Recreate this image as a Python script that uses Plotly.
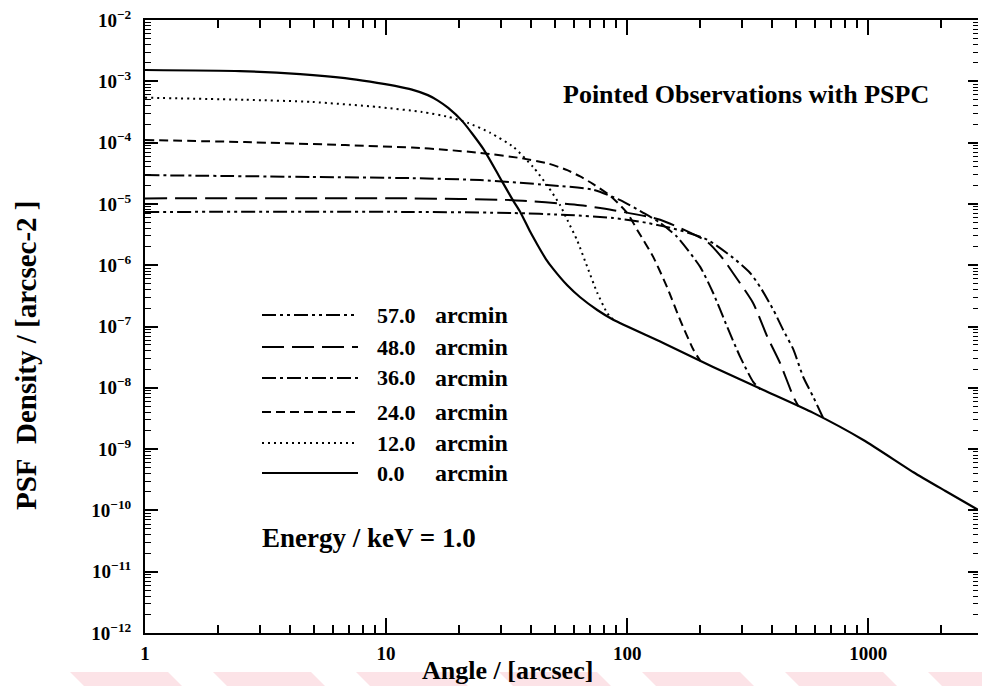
import plotly.graph_objects as go

# ---- PSF radial profiles, PSPC pointed observations, E = 1.0 keV ----
offaxis_values = ["57.0", "48.0", "36.0", "24.0", "12.0", "0.0"]
offaxis_unit = "arcmin"

# 0 arcmin (on-axis)
x_0 = [1, 2.48, 4.40, 6.76, 8.58, 10.9, 12.8, 14.9, 16.4, 18.1, 20.7, 25.3, 29.7, 33.7, 36.0,
       39.6, 42.3, 46.0, 49.3, 56.4, 63.8, 75.1, 87.5, 141, 227, 367, 591, 953, 1538, 2088, 2850]
y_0 = [1.53e-3, 1.47e-3, 1.31e-3, 1.13e-3, 9.9e-4, 8.4e-4, 7.3e-4, 5.95e-4, 4.85e-4, 3.68e-4,
       2.24e-4, 7.9e-5, 2.65e-5, 1.12e-5, 7.4e-6, 3.5e-6, 2.2e-6, 1.26e-6, 8.7e-7, 4.7e-7,
       3.0e-7, 1.86e-7, 1.29e-7, 5.4e-8, 2.18e-8, 9.2e-9, 3.9e-9, 1.41e-9, 4.2e-10, 2.07e-10,
       1.02e-10]

# 12 arcmin
x_12 = [1, 2.60, 4.93, 9.26, 14.1, 18.1, 21.9, 27.0, 33.7, 40.7, 46.6, 52.7, 56.4, 62.1, 68.2,
        75.1, 82.6, 87.5]
y_12 = [5.4e-4, 5.0e-4, 4.6e-4, 3.8e-4, 3.16e-4, 2.63e-4, 2.09e-4, 1.45e-4, 8.5e-5, 4.0e-5,
        2.0e-5, 9.5e-6, 5.5e-6, 2.5e-6, 9.5e-7, 3.55e-7, 1.66e-7, 1.29e-7]

# 24 arcmin
x_24 = [1, 2.60, 6.76, 12.8, 17.9, 24.5, 36.0, 46.6, 56.4, 63.8, 72.3, 85.1, 100, 111, 128, 147,
        166, 188, 201]
y_24 = [1.1e-4, 1.02e-4, 9.1e-5, 8.3e-5, 7.6e-5, 6.8e-5, 5.6e-5, 4.6e-5, 3.55e-5, 2.8e-5,
        2.1e-5, 1.35e-5, 7.1e-6, 3.55e-6, 1.38e-6, 4.2e-7, 1.26e-7, 4.2e-8, 2.75e-8]

# 36 arcmin
x_36 = [1, 4.93, 12.8, 24.5, 46.6, 72.3, 93.5, 117, 137, 161, 201, 227, 260, 294, 333, 356]
y_36 = [2.95e-5, 2.75e-5, 2.63e-5, 2.45e-5, 2.04e-5, 1.7e-5, 1.15e-5, 7.1e-6, 4.9e-6, 2.9e-6,
        9.3e-7, 3.55e-7, 9.8e-8, 3.2e-8, 1.25e-8, 9.5e-9]

# 48 arcmin
x_48 = [1, 12.8, 33.7, 63.8, 87.5, 137, 215, 250, 275, 333, 381, 431, 489, 513]
y_48 = [1.23e-5, 1.23e-5, 1.15e-5, 9.5e-6, 7.9e-6, 5.5e-6, 2.4e-6, 1.26e-6, 7.4e-7, 2.4e-7,
        6.8e-8, 2.5e-8, 7.1e-9, 5.0e-9]

# 57 arcmin
x_57 = [1, 12.8, 33.7, 56.4, 87.5, 121, 166, 215, 275, 324, 356, 404, 444, 489, 537, 591, 650]
y_57 = [7.4e-6, 7.4e-6, 7.1e-6, 6.6e-6, 5.9e-6, 4.9e-6, 3.7e-6, 2.6e-6, 1.32e-6, 7.4e-7,
        4.4e-7, 1.86e-7, 8.7e-8, 4.2e-8, 1.5e-8, 7.1e-9, 3.2e-9]

y_decades = list(range(-2, -13, -1))
x_tick_vals = [1, 10, 100, 1000]
x_tick_text = ["1", "10", "100", "1000"]

# ---- styling ----
FONT = "Liberation Serif"
INK = "black"
DASHES = {
    "0": "solid",
    "12": "2px,4px",
    "24": "9px,5px",
    "36": "14px,4px,3px,4px",
    "48": "22px,8px",
    "57": "14px,4px,3px,4px,3px,4px",
}

W, H = 982, 686
L, R, T, B = 145, 4, 20, 53
PW, PH = W - L - R, H - T - B


def xp(px):
    return (px - L) / PW


def yp(py):
    return (H - B - py) / PH


def bold(size):
    return dict(family=FONT, size=size, color=INK, weight="bold")


series = [
    ("0", x_0, y_0, 2.2),
    ("12", x_12, y_12, 2.0),
    ("24", x_24, y_24, 2.0),
    ("36", x_36, y_36, 2.0),
    ("48", x_48, y_48, 2.0),
    ("57", x_57, y_57, 2.0),
]

fig = go.Figure()
for key, xs, ys, lw in series:
    fig.add_trace(go.Scatter(
        x=xs, y=ys, mode="lines",
        line=dict(color=INK, width=lw, dash=DASHES[key], shape="spline", smoothing=0.6),
        showlegend=False, hoverinfo="skip",
    ))

# carrier trace for the right-hand tick axis
fig.add_trace(go.Scatter(x=[None], y=[None], yaxis="y2", showlegend=False, hoverinfo="skip"))

minor_x = [m * 10 ** d for d in range(0, 4) for m in range(2, 10)]
minor_y = [m * 10.0 ** d for d in range(-12, -2) for m in range(2, 10)]

fig.update_layout(
    width=W, height=H,
    margin=dict(l=L, r=R, t=T, b=B),
    paper_bgcolor="white", plot_bgcolor="white",
    xaxis=dict(
        type="log", range=[0, 3.4548],
        showgrid=False, zeroline=False,
        showline=True, linecolor=INK, linewidth=2, mirror="ticks",
        ticks="inside", ticklen=15, tickwidth=1.5, tickcolor=INK,
        tickmode="array", tickvals=x_tick_vals, ticktext=x_tick_text,
        tickfont=bold(19), ticklabelstandoff=2,
        minor=dict(ticks="inside", ticklen=8, tickwidth=1.5, tickcolor=INK,
                   tickmode="array", tickvals=minor_x, showgrid=False),
    ),
    yaxis=dict(
        type="log", range=[-12, -2],
        showgrid=False, zeroline=False,
        showline=True, linecolor=INK, linewidth=2,
        ticks="inside", ticklen=13, tickwidth=1.5, tickcolor=INK,
        tickmode="array", tickvals=[10.0 ** d for d in y_decades],
        ticktext=[f"10<sup>\u2212{-d}</sup>" for d in y_decades],
        tickfont=bold(19), ticklabelstandoff=8,
        minor=dict(ticks="inside", ticklen=6, tickwidth=1.2, tickcolor=INK,
                   tickmode="array", tickvals=minor_y, showgrid=False),
    ),
    yaxis2=dict(
        type="log", range=[-12, -2], overlaying="y", side="right",
        showgrid=False, zeroline=False, showline=False, showticklabels=False,
        ticks="inside", ticklen=10, tickwidth=1.5, tickcolor=INK,
        tickmode="array", tickvals=[10.0 ** d for d in y_decades],
        minor=dict(ticks="inside", ticklen=5, tickwidth=1.2, tickcolor=INK,
                   tickmode="array", tickvals=minor_y, showgrid=False),
    ),
)

annotations = [
    dict(text="Pointed Observations with PSPC", x=xp(746), y=yp(95),
         xanchor="center", yanchor="middle", font=bold(26)),
    dict(text="Energy / keV = 1.0", x=xp(260), y=yp(538),
         xanchor="left", yanchor="middle", font=bold(27)),
    dict(text="Angle / [arcsec]", x=xp(507), y=yp(670),
         xanchor="center", yanchor="middle", font=bold(26)),
    dict(text="PSF\u00a0\u00a0Density / [arcsec-2 ]", x=xp(26), y=yp(355), textangle=-90,
         xanchor="center", yanchor="middle", font=bold(29)),
]

# key: line samples with labels, listed from 57 arcmin down to 0 arcmin
key_rows = [("57", 315), ("48", 347), ("36", 378), ("24", 412), ("12", 443), ("0", 473)]
shapes = []
for (key, row_y), value in zip(key_rows, offaxis_values):
    shapes.append(dict(type="line", xref="paper", yref="paper",
                       x0=xp(262), x1=xp(358), y0=yp(row_y), y1=yp(row_y),
                       line=dict(color=INK, width=2, dash=DASHES[key])))
    annotations.append(dict(text=value, x=xp(375), y=yp(row_y), xanchor="left",
                            yanchor="middle", font=bold(22)))
    annotations.append(dict(text=offaxis_unit, x=xp(433), y=yp(row_y), xanchor="left",
                            yanchor="middle", font=bold(24)))

# faint pink slanted band along the bottom edge of the page
band_top, band_bottom, slant = 672, 686, 14
for left in range(70, W, 143):
    right = left + 98
    path = (f"M {xp(left)},{yp(band_top)} L {xp(right)},{yp(band_top)} "
            f"L {xp(right + slant)},{yp(band_bottom)} L {xp(left + slant)},{yp(band_bottom)} Z")
    shapes.append(dict(type="path", xref="paper", yref="paper", path=path, layer="below",
                       fillcolor="#fce3e7", line=dict(width=0)))

for a in annotations:
    a.update(xref="paper", yref="paper", showarrow=False)

fig.update_layout(annotations=annotations, shapes=shapes)
fig.write_html("out.html")
